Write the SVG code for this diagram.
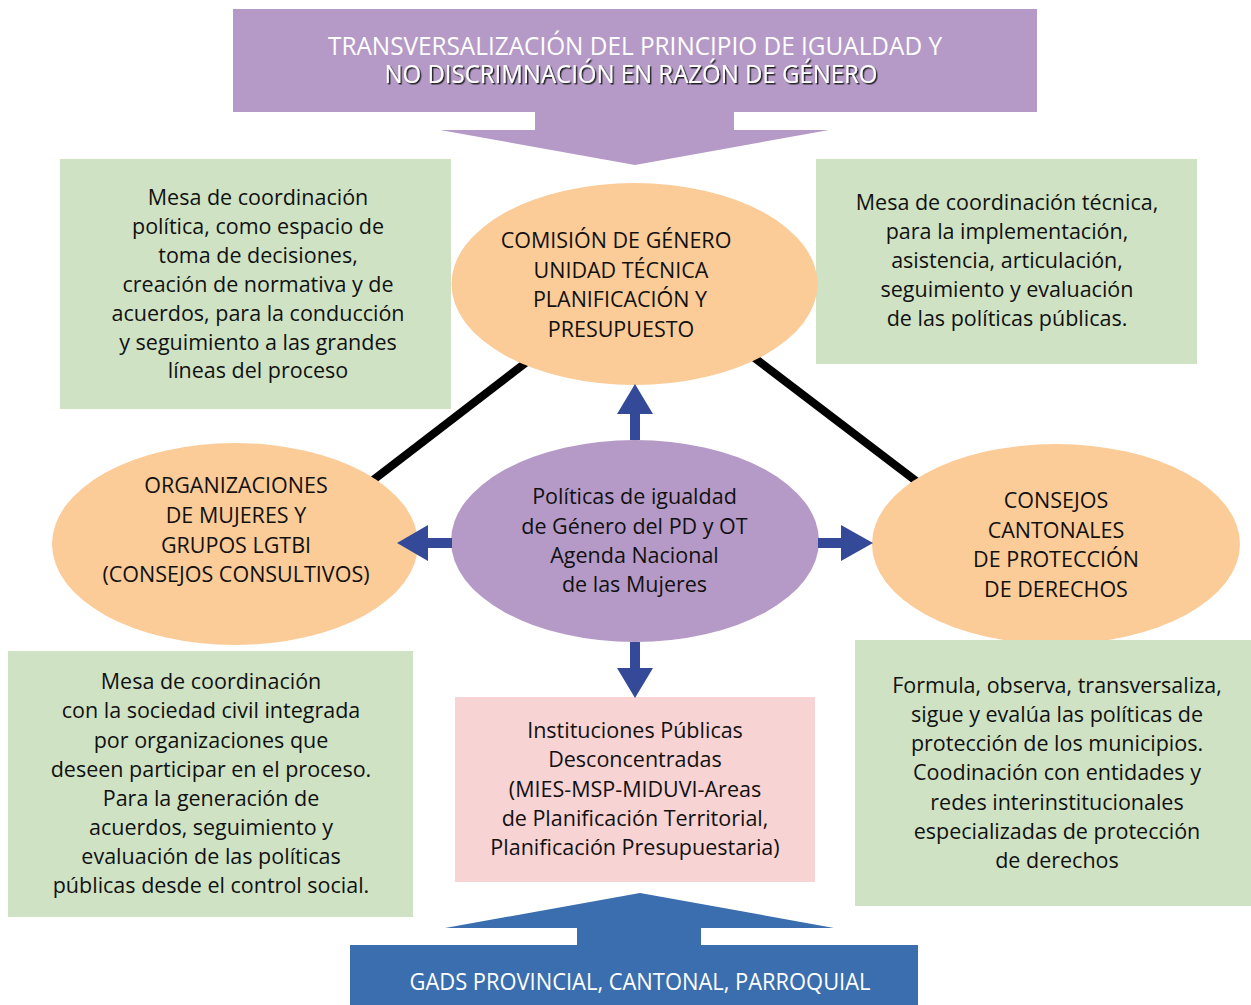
<svg xmlns="http://www.w3.org/2000/svg" width="1251" height="1005" viewBox="0 0 1251 1005">
<style>
.t{font-family:"Open Sans","Liberation Sans",sans-serif;font-size:21.5px;fill:#111111;text-anchor:middle}
.b{font-family:"Open Sans","Liberation Sans",sans-serif;fill:#ffffff;text-anchor:middle}
.green{fill:#CFE3C4}
.orange{fill:#FBCB98}
.purple{fill:#B59AC7}
.link{stroke:#000;stroke-width:8;fill:none}
.arr{fill:#344A98}
</style>
<defs>
<filter id="shadow" x="-5%" y="-20%" width="110%" height="150%">
<feDropShadow dx="1.5" dy="1.5" stdDeviation="0.3" flood-color="#222222" flood-opacity="1"/>
</filter>
</defs>
<rect width="1251" height="1005" fill="#ffffff"/>
<g id="connectors">
<line class="link" x1="528" y1="361" x2="368" y2="484"/>
<line class="link" x1="752" y1="356" x2="920" y2="484"/>
</g>
<g id="banner-top">
<path class="purple" d="M233,9 H1037 V112 H734 V130 H829 L635,165 L440,130 H535 V112 H233 Z"/>
<text class="b" x="635" y="55" font-size="26" textLength="614" lengthAdjust="spacingAndGlyphs">TRANSVERSALIZACIÓN DEL PRINCIPIO DE IGUALDAD Y</text>
<text class="b" x="631" y="83" font-size="26" textLength="493" lengthAdjust="spacingAndGlyphs" filter="url(#shadow)">NO DISCRIMNACIÓN EN RAZÓN DE GÉNERO</text>
</g>
<g id="box-politica">
<rect class="green" x="60" y="159" width="391" height="250"/>
<text class="t" x="258" y="205">Mesa de coordinación</text>
<text class="t" x="258" y="234">política, como espacio de</text>
<text class="t" x="258" y="263">toma de decisiones,</text>
<text class="t" x="258" y="292">creación de normativa y de</text>
<text class="t" x="258" y="321">acuerdos, para la conducción</text>
<text class="t" x="258" y="349.5">y seguimiento a las grandes</text>
<text class="t" x="258" y="378">líneas del proceso</text>
</g>
<g id="box-tecnica">
<rect class="green" x="816" y="159" width="381" height="205"/>
<text class="t" x="1007" y="210">Mesa de coordinación técnica,</text>
<text class="t" x="1007" y="239">para la implementación,</text>
<text class="t" x="1007" y="268">asistencia, articulación,</text>
<text class="t" x="1007" y="297">seguimiento y evaluación</text>
<text class="t" x="1007" y="325.5">de las políticas públicas.</text>
</g>
<g id="comision">
<ellipse class="orange" cx="634.5" cy="284" rx="183" ry="101"/>
<text class="t" x="616" y="248">COMISIÓN DE GÉNERO</text>
<text class="t" x="621" y="277.5">UNIDAD TÉCNICA</text>
<text class="t" x="620" y="307">PLANIFICACIÓN Y</text>
<text class="t" x="621" y="337">PRESUPUESTO</text>
</g>
<g id="organizaciones">
<ellipse class="orange" cx="235" cy="544" rx="183" ry="101"/>
<text class="t" x="236" y="493">ORGANIZACIONES</text>
<text class="t" x="236" y="523">DE MUJERES Y</text>
<text class="t" x="236" y="552.5">GRUPOS LGTBI</text>
<text class="t" x="236" y="582">(CONSEJOS CONSULTIVOS)</text>
</g>
<g id="consejos">
<ellipse class="orange" cx="1056" cy="544" rx="184" ry="100"/>
<text class="t" x="1056" y="508">CONSEJOS</text>
<text class="t" x="1056" y="537.5">CANTONALES</text>
<text class="t" x="1056" y="567">DE PROTECCIÓN</text>
<text class="t" x="1056" y="597">DE DERECHOS</text>
</g>
<g id="politicas">
<ellipse class="purple" cx="635" cy="541" rx="184" ry="101"/>
<text class="t" x="634.5" y="504">Políticas de igualdad</text>
<text class="t" x="634.5" y="533.5">de Género del PD y OT</text>
<text class="t" x="634.5" y="563">Agenda Nacional</text>
<text class="t" x="634.5" y="592">de las Mujeres</text>
</g>
<g id="box-sociedad">
<rect class="green" x="8" y="651" width="405" height="266"/>
<text class="t" x="211" y="689">Mesa de coordinación</text>
<text class="t" x="211" y="718">con la sociedad civil integrada</text>
<text class="t" x="211" y="747.5">por organizaciones que</text>
<text class="t" x="211" y="776.5">deseen participar en el proceso.</text>
<text class="t" x="211" y="806">Para la generación de</text>
<text class="t" x="211" y="835">acuerdos, seguimiento y</text>
<text class="t" x="211" y="864">evaluación de las políticas</text>
<text class="t" x="211" y="893">públicas desde el control social.</text>
</g>
<g id="instituciones">
<rect x="455" y="697" width="360" height="185" fill="#F8D3D3"/>
<text class="t" x="635" y="738">Instituciones Públicas</text>
<text class="t" x="635" y="767">Desconcentradas</text>
<text class="t" x="635" y="796.5">(MIES-MSP-MIDUVI-Areas</text>
<text class="t" x="635" y="826">de Planificación Territorial,</text>
<text class="t" x="635" y="855">Planificación Presupuestaria)</text>
</g>
<g id="box-consejos">
<rect class="green" x="855" y="640" width="396" height="266"/>
<text class="t" x="1057" y="693">Formula, observa, transversaliza,</text>
<text class="t" x="1057" y="722">sigue y evalúa las políticas de</text>
<text class="t" x="1057" y="751">protección de los municipios.</text>
<text class="t" x="1057" y="780">Coodinación con entidades y</text>
<text class="t" x="1057" y="809.5">redes interinstitucionales</text>
<text class="t" x="1057" y="838.5">especializadas de protección</text>
<text class="t" x="1057" y="867.5">de derechos</text>
</g>
<g id="arrows">
<polygon class="arr" points="630,440 630,414 617,414 635,384 653,414 640,414 640,440"/>
<polygon class="arr" points="630,642 630,668 617,668 635,698 653,668 640,668 640,642"/>
<polygon class="arr" points="452,538 428,538 428,525 397,543 428,561 428,548 452,548"/>
<polygon class="arr" points="818,538 841,538 841,525 873,543 841,561 841,548 818,548"/>
</g>
<g id="banner-bottom">
<path d="M350,1005 V945 H577 V928 H445 L640,893 L834,928 H701 V945 H918 V1005 Z" fill="#3A6EAF"/>
<text class="b" x="640" y="990" font-size="23" textLength="461" lengthAdjust="spacingAndGlyphs">GADS PROVINCIAL, CANTONAL, PARROQUIAL</text>
</g>
</svg>
